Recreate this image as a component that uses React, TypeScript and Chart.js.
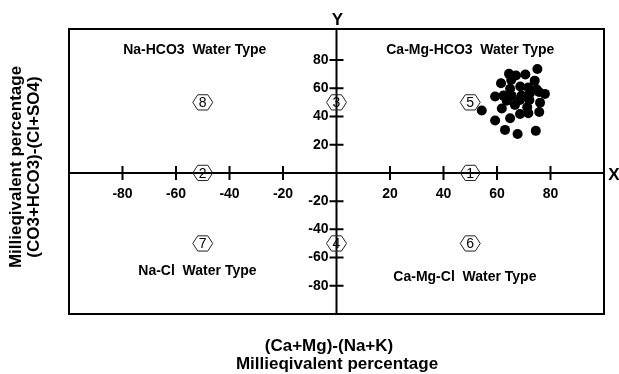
import React, { useEffect, useRef } from 'react';
import { Chart, registerables } from 'chart.js';

Chart.register(...registerables);

const FONT = '"Liberation Sans", Arial, sans-serif';

// Sample points (x = (Ca+Mg)-(Na+K), y = (CO3+HCO3)-(Cl+SO4)), meq %
const sampleX = [75.1, 64.5, 67.1, 70.6, 61.5, 65.3, 74.1, 64.9, 68.7, 71.7, 74.8, 59.3, 62.4, 65.5, 69.2, 72.3, 75.7, 77.9, 54.3, 59.3, 64.9, 68.6, 71.7, 75.8, 61.8, 66.7, 71.3, 63.6, 68.6, 72.1, 76.1, 63.0, 67.7, 74.5];
const sampleY = [73.7, 70.2, 69.0, 69.7, 63.6, 65.9, 65.4, 59.7, 61.2, 60.5, 59.3, 54.1, 54.8, 54.6, 54.8, 56.5, 57.4, 56.0, 44.2, 37.1, 38.8, 41.8, 42.3, 43.2, 45.6, 48.2, 46.6, 51.2, 51.7, 51.7, 49.8, 30.5, 27.6, 29.8];

const xTickValues = [-80, -60, -40, -20, 20, 40, 60, 80];
const yTickValues = [80, 60, 40, 20, -20, -40, -60, -80];

const fieldNumbers = ['1', '2', '3', '4', '5', '6', '7', '8'];
const fieldX = [50, -50, 0, 0, 50, 50, -50, -50];
const fieldY = [0, 0, 50, -50, 50, -50, -50, 50];

const typeLabels = ['Na-HCO3  Water Type', 'Ca-Mg-HCO3  Water Type', 'Na-Cl  Water Type', 'Ca-Mg-Cl  Water Type'];
const typeX = [-53, 50, -52, 48];
const typeY = [87, 87, -69.5, -73.7];

const xTitleLines = ['(Ca+Mg)-(Na+K)', 'Millieqivalent percentage'];
const yTitleLines = ['Millieqivalent percentage', '(CO3+HCO3)-(Cl+SO4)'];

export default function App() {
  const ref = useRef<HTMLCanvasElement>(null);

  useEffect(() => {
    if (!ref.current) return;

    const overlay = {
      id: 'chadhaOverlay',
      beforeDatasetsDraw(chart: any) {
        const ctx = chart.ctx;
        const xs = chart.scales.x;
        const ys = chart.scales.y;
        const a = chart.chartArea;
        const x0 = xs.getPixelForValue(0);
        const y0 = ys.getPixelForValue(0);
        ctx.save();
        ctx.strokeStyle = '#000';
        ctx.lineWidth = 2;
        ctx.strokeRect(a.left, a.top, a.right - a.left, a.bottom - a.top);
        ctx.beginPath();
        ctx.moveTo(a.left, y0);
        ctx.lineTo(a.right, y0);
        ctx.moveTo(x0, a.top);
        ctx.lineTo(x0, a.bottom);
        ctx.stroke();

        // ticks
        ctx.beginPath();
        xTickValues.forEach((v) => {
          const px = xs.getPixelForValue(v);
          ctx.moveTo(px, y0 - 7);
          ctx.lineTo(px, y0 + 7);
        });
        yTickValues.forEach((v) => {
          const py = ys.getPixelForValue(v);
          ctx.moveTo(x0 - 7, py);
          ctx.lineTo(x0 + 7, py);
        });
        ctx.stroke();

        // tick labels
        ctx.fillStyle = '#000';
        ctx.font = `bold 14px ${FONT}`;
        ctx.textAlign = 'center';
        ctx.textBaseline = 'middle';
        xTickValues.forEach((v) => {
          ctx.fillText(String(v), xs.getPixelForValue(v), y0 + 21);
        });
        ctx.textAlign = 'right';
        yTickValues.forEach((v) => {
          ctx.fillText(String(v), x0 - 8, ys.getPixelForValue(v));
        });

        // axis letters
        ctx.font = `bold 17px ${FONT}`;
        ctx.textAlign = 'center';
        ctx.textBaseline = 'alphabetic';
        ctx.fillText('Y', x0 + 1, 25);
        ctx.fillText('X', a.right + 10, y0 + 7);

        // water type labels
        ctx.font = `bold 14px ${FONT}`;
        ctx.textBaseline = 'middle';
        typeLabels.forEach((t, i) => {
          ctx.fillText(t, xs.getPixelForValue(typeX[i]), ys.getPixelForValue(typeY[i]));
        });

        // field hexagons
        ctx.lineWidth = 1;
        ctx.strokeStyle = '#222';
        ctx.font = `14px ${FONT}`;
        fieldNumbers.forEach((n, i) => {
          const cx = xs.getPixelForValue(fieldX[i]);
          const cy = ys.getPixelForValue(fieldY[i]);
          const r = 10;
          ctx.beginPath();
          for (let k = 0; k < 6; k++) {
            const ang = (Math.PI / 3) * k;
            const px = cx + r * Math.cos(ang);
            const py = cy + r * 0.88 * Math.sin(ang);
            if (k === 0) ctx.moveTo(px, py);
            else ctx.lineTo(px, py);
          }
          ctx.closePath();
          ctx.stroke();
          ctx.fillText(n, cx, cy + 1);
        });

        // axis titles
        ctx.font = `bold 17px ${FONT}`;
        ctx.textBaseline = 'alphabetic';
        ctx.textAlign = 'center';
        ctx.fillText(xTitleLines[0], 329, 351);
        ctx.fillText(xTitleLines[1], 337, 369);
        ctx.save();
        ctx.translate(0, 167);
        ctx.rotate(-Math.PI / 2);
        ctx.fillText(yTitleLines[0], 0, 21);
        ctx.fillText(yTitleLines[1], 0, 39);
        ctx.restore();

        ctx.restore();
      },
    };

    const chart = new Chart(ref.current, {
      type: 'scatter',
      data: {
        datasets: [
          {
            label: 'Samples',
            data: sampleX.map((x, i) => ({ x, y: sampleY[i] })),
            backgroundColor: '#000',
            borderColor: '#000',
            borderWidth: 0,
            pointRadius: 5,
          },
        ],
      },
      options: {
        responsive: false,
        animation: false,
        layout: { padding: { left: 69, right: 15, top: 29, bottom: 60 } },
        plugins: { legend: { display: false }, tooltip: { enabled: false }, title: { display: false } },
        scales: {
          x: { type: 'linear', min: -100, max: 100, display: false },
          y: { type: 'linear', min: -100, max: 102, display: false },
        },
      },
      plugins: [overlay],
    });

    return () => chart.destroy();
  }, []);

  return (
    <div style={{ position: 'fixed', left: 0, top: 0, width: 619, height: 374, background: '#fff' }}>
      <canvas ref={ref} width={619} height={374} style={{ display: 'block', width: 619, height: 374 }} />
    </div>
  );
}
